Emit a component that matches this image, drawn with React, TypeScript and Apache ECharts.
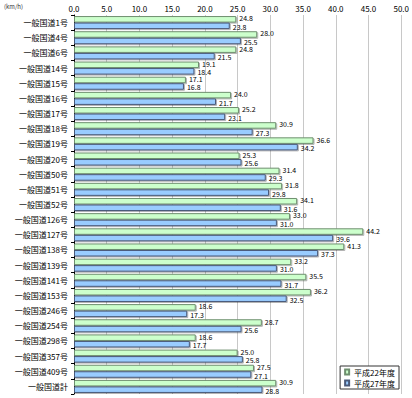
import React, { useEffect, useRef } from "react";
import * as echarts from "echarts";

const categories = [
  "一般国道1号", "一般国道4号", "一般国道6号", "一般国道14号", "一般国道15号",
  "一般国道16号", "一般国道17号", "一般国道18号", "一般国道19号", "一般国道20号",
  "一般国道50号", "一般国道51号", "一般国道52号", "一般国道126号", "一般国道127号",
  "一般国道138号", "一般国道139号", "一般国道141号", "一般国道153号", "一般国道246号",
  "一般国道254号", "一般国道298号", "一般国道357号", "一般国道409号", "一般国道計",
];
const seriesNames = ["平成22年度", "平成27年度"];
const h22 = [24.8, 28.0, 24.8, 19.1, 17.1, 24.0, 25.2, 30.9, 36.6, 25.3, 31.4, 31.8, 34.1, 33.0, 44.2, 41.3, 33.2, 35.5, 36.2, 18.6, 28.7, 18.6, 25.0, 27.5, 30.9];
const h27 = [23.8, 25.5, 21.5, 18.4, 16.8, 21.7, 23.1, 27.3, 34.2, 25.6, 29.3, 29.8, 31.6, 31.0, 39.6, 37.3, 31.0, 31.7, 32.5, 17.3, 25.6, 17.7, 25.8, 27.1, 28.8];
const unitLabel = "(km/h)";

const FONT = "'Noto Sans CJK JP', sans-serif";

export default function App() {
  const ref = useRef<HTMLDivElement>(null);
  useEffect(() => {
    if (!ref.current) return;
    const chart = echarts.init(ref.current, null, { renderer: "svg" });
    const labelCfg = (dy: number) => ({
      show: true,
      position: "right" as const,
      distance: 3,
      offset: [0, dy],
      fontSize: 7,
      lineHeight: 7,
      color: "#000",
      fontFamily: FONT,
      formatter: (p: any) => Number(p.value).toFixed(1),
    });
    const shadow = {
      shadowColor: "rgba(0,0,0,0.3)",
      shadowOffsetX: 1,
      shadowOffsetY: 1,
      shadowBlur: 0,
    };
    chart.setOption({
      animation: false,
      backgroundColor: "#fff",
      textStyle: { fontFamily: FONT },
      grid: { left: 74, right: 9, top: 15, bottom: 4, containLabel: false },
      xAxis: {
        type: "value",
        position: "top",
        min: 0,
        max: 50,
        interval: 5,
        axisLabel: {
          fontSize: 8,
          color: "#000",
          margin: 3,
          formatter: (v: number) => v.toFixed(1),
        },
        axisLine: { show: false },
        axisTick: { show: false },
        splitLine: { show: true, lineStyle: { color: "#c8c8c8", width: 1 } },
      },
      yAxis: {
        type: "category",
        data: categories,
        inverse: true,
        axisLine: { show: true, lineStyle: { color: "#000", width: 1 } },
        axisTick: { show: true, length: 3, lineStyle: { color: "#000" } },
        axisLabel: { fontSize: 8, color: "#000", margin: 6, fontFamily: FONT },
      },
      legend: {
        orient: "vertical",
        right: 13,
        bottom: 9,
        itemWidth: 4,
        itemHeight: 5,
        itemGap: 3,
        padding: [2, 4, 2, 4],
        borderColor: "#333",
        borderWidth: 1,
        backgroundColor: "#fff",
        textStyle: { fontSize: 8, color: "#000", fontFamily: FONT },
        icon: "rect",
        data: seriesNames,
      },
      graphic: [
        {
          type: "text",
          left: 4,
          top: 3,
          style: { text: unitLabel, fontSize: 6, fill: "#333", fontFamily: FONT },
        },
      ],
      series: [
        {
          name: seriesNames[0],
          type: "bar",
          data: h22,
          barGap: "0%",
          barCategoryGap: "14%",
          itemStyle: {
            color: "#ccffcc",
            borderColor: "#6f8f6f",
            borderWidth: 1,
            ...shadow,
          },
          label: labelCfg(-1),
        },
        {
          name: seriesNames[1],
          type: "bar",
          data: h27,
          barGap: "0%",
          barCategoryGap: "14%",
          itemStyle: {
            color: "#99ccff",
            borderColor: "#4a5a7a",
            borderWidth: 1,
            ...shadow,
          },
          label: labelCfg(1),
        },
      ],
    });
    return () => chart.dispose();
  }, []);
  return (
    <div
      ref={ref}
      style={{ position: "absolute", left: 0, top: 0, width: 412, height: 398 }}
    />
  );
}
